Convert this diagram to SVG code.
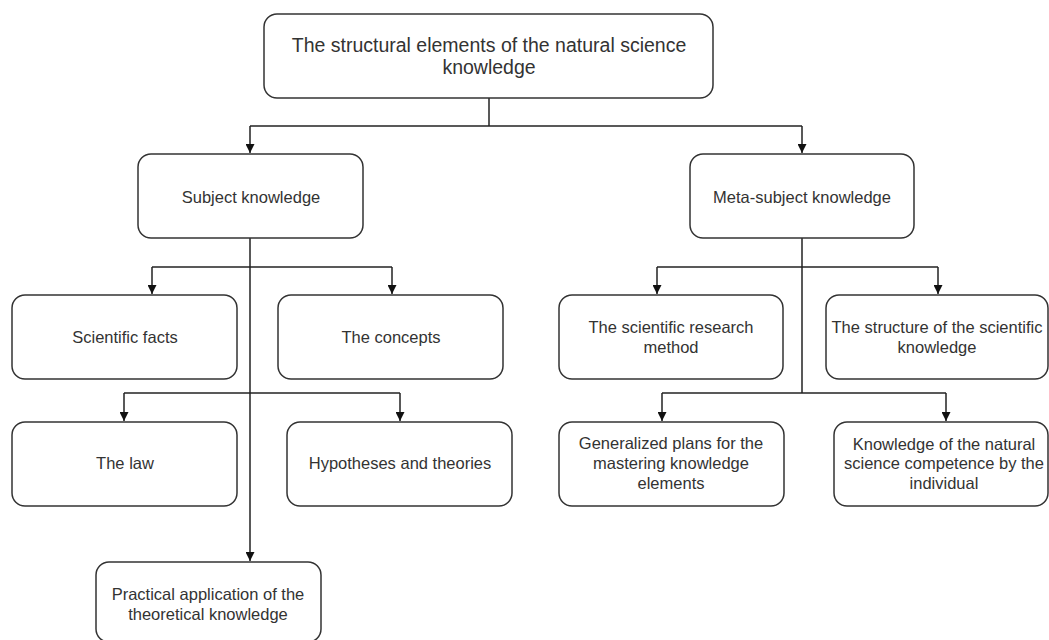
<svg xmlns="http://www.w3.org/2000/svg" width="1049" height="640" viewBox="0 0 1049 640">
<style>
.box{fill:#fff;stroke:#333;stroke-width:1.5}
.t{font-family:"Liberation Sans",Arial,sans-serif;font-size:16.5px;fill:#333;text-anchor:middle}
.big{font-size:19.5px}
.c{fill:none;stroke:#222;stroke-width:1.5}
</style>
<defs>
<marker id="a" viewBox="0 0 10 10" refX="10" refY="5" markerWidth="10" markerHeight="9" markerUnits="userSpaceOnUse" orient="auto">
<path d="M0,0 L10,5 L0,10 z" fill="#111"/>
</marker>
</defs>
<rect width="1049" height="640" fill="#fff"/>
<g id="connectors">
<path class="c" d="M489,98 V126"/>
<path class="c" d="M250,126 H802"/>
<path class="c" d="M250,126 V153" marker-end="url(#a)"/>
<path class="c" d="M802,126 V153" marker-end="url(#a)"/>
<path class="c" d="M250,238 V561" marker-end="url(#a)"/>
<path class="c" d="M152,267 H392"/>
<path class="c" d="M152,267 V294" marker-end="url(#a)"/>
<path class="c" d="M392,267 V294" marker-end="url(#a)"/>
<path class="c" d="M124,393 H400"/>
<path class="c" d="M124,393 V421" marker-end="url(#a)"/>
<path class="c" d="M400,393 V421" marker-end="url(#a)"/>
<path class="c" d="M802,238 V393"/>
<path class="c" d="M657,267 H938"/>
<path class="c" d="M657,267 V294" marker-end="url(#a)"/>
<path class="c" d="M938,267 V294" marker-end="url(#a)"/>
<path class="c" d="M662,393 H946"/>
<path class="c" d="M662,393 V421" marker-end="url(#a)"/>
<path class="c" d="M946,393 V421" marker-end="url(#a)"/>
</g>
<g id="root">
<rect class="box" x="264" y="14" width="449" height="84" rx="13"/>
<text class="t big" x="489" y="52">The structural elements of the natural science</text>
<text class="t big" x="489" y="74">knowledge</text>
</g>
<g id="subject">
<rect class="box" x="138" y="154" width="225" height="84" rx="13"/>
<text class="t" x="251" y="203">Subject knowledge</text>
</g>
<g id="meta">
<rect class="box" x="690" y="154" width="224" height="84" rx="13"/>
<text class="t" x="802" y="203">Meta-subject knowledge</text>
</g>
<g id="facts">
<rect class="box" x="12" y="295" width="225" height="84" rx="13"/>
<text class="t" x="125" y="343">Scientific facts</text>
</g>
<g id="concepts">
<rect class="box" x="278" y="295" width="225" height="84" rx="13"/>
<text class="t" x="391" y="343">The concepts</text>
</g>
<g id="law">
<rect class="box" x="12" y="422" width="225" height="84" rx="13"/>
<text class="t" x="125" y="469">The law</text>
</g>
<g id="hypotheses">
<rect class="box" x="287" y="422" width="225" height="84" rx="13"/>
<text class="t" x="400" y="469">Hypotheses and theories</text>
</g>
<g id="practical">
<rect class="box" x="96" y="562" width="225" height="80" rx="13"/>
<text class="t" x="208" y="600">Practical application of the</text>
<text class="t" x="208" y="620">theoretical knowledge</text>
</g>
<g id="method">
<rect class="box" x="559" y="295" width="224" height="84" rx="13"/>
<text class="t" x="671" y="333">The scientific research</text>
<text class="t" x="671" y="353">method</text>
</g>
<g id="structure">
<rect class="box" x="826" y="295" width="222" height="84" rx="13"/>
<text class="t" x="937" y="333">The structure of the scientific</text>
<text class="t" x="937" y="353">knowledge</text>
</g>
<g id="plans">
<rect class="box" x="559" y="422" width="225" height="84" rx="13"/>
<text class="t" x="671" y="449">Generalized plans for the</text>
<text class="t" x="671" y="469">mastering knowledge</text>
<text class="t" x="671" y="489">elements</text>
</g>
<g id="competence">
<rect class="box" x="834" y="422" width="214" height="84" rx="13"/>
<text class="t" x="944" y="450">Knowledge of the natural</text>
<text class="t" x="944" y="469">science competence by the</text>
<text class="t" x="944" y="489">individual</text>
</g>
</svg>
